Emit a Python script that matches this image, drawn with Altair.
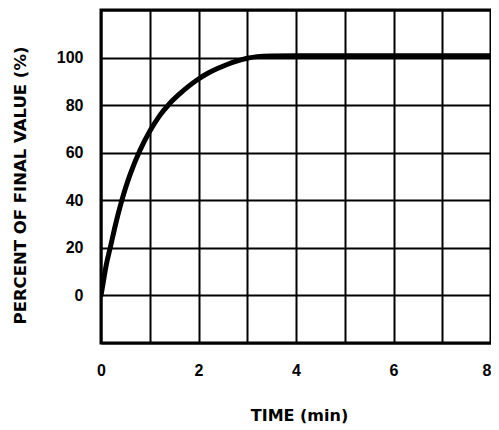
import altair as alt
import pandas as pd

time_min = [0, 0.05, 0.1, 0.2, 0.3, 0.4, 0.5, 0.6, 0.8, 1.0, 1.2, 1.4, 1.6, 1.8, 2.0, 2.2, 2.4, 2.6, 2.8, 3.0, 3.2, 3.5, 4, 5, 6, 7, 8]
percent = [0, 6, 12, 21, 30, 38, 45, 51, 61, 69, 75.5, 80.5, 84.5, 88, 91, 93.5, 95.5, 97.2, 98.6, 99.7, 100.4, 100.7, 100.8, 100.8, 100.8, 100.8, 100.8]
x_ticks = [0, 1, 2, 3, 4, 5, 6, 7, 8]
y_ticks = [-20, 0, 20, 40, 60, 80, 100, 120]

df = pd.DataFrame({"t": time_min, "p": percent})

chart = alt.Chart(df).mark_line(
    color="black", strokeWidth=5, strokeCap="round", interpolate="monotone", clip=True
).encode(
    x=alt.X("t:Q", scale=alt.Scale(domain=[0, 8], nice=False),
            axis=alt.Axis(values=x_ticks, title="TIME (min)",
                          labelExpr="datum.value % 2 == 0 ? datum.label : ''",
                          labelAlign=alt.ConditionalAxisLabelAlign(
                              condition={"test": "datum.value == 8", "value": "right"},
                              value="center"),
                          labelPadding=19, titleX=198, titleY=77,
                          titleBaseline="alphabetic", titleFontSize=16)),
    y=alt.Y("p:Q", scale=alt.Scale(domain=[-20, 120], nice=False),
            axis=alt.Axis(values=y_ticks, title="PERCENT OF FINAL VALUE (%)",
                          labelExpr="datum.value >= 0 && datum.value <= 100 ? datum.label : ''",
                          labelPadding=18, titleX=-76, titleY=175,
                          titleBaseline="alphabetic", titleFontSize=16.5)),
).properties(
    width=390, height=333,
    autosize=alt.AutoSizeParams(type="none"),
    padding={"left": 93, "top": 2, "right": 0, "bottom": 81},
).configure_view(
    stroke="black", strokeWidth=3
).configure_axis(
    grid=True, gridColor="black", gridWidth=2, gridOpacity=1,
    domain=False, ticks=False,
    labelFont="Liberation Sans", labelFontWeight="bold", labelFontSize=16, labelColor="black",
    titleFont="DejaVu Sans", titleFontWeight="bold", titleColor="black",
)

chart.save("out.html", embed_options={"renderer": "svg", "actions": False})
